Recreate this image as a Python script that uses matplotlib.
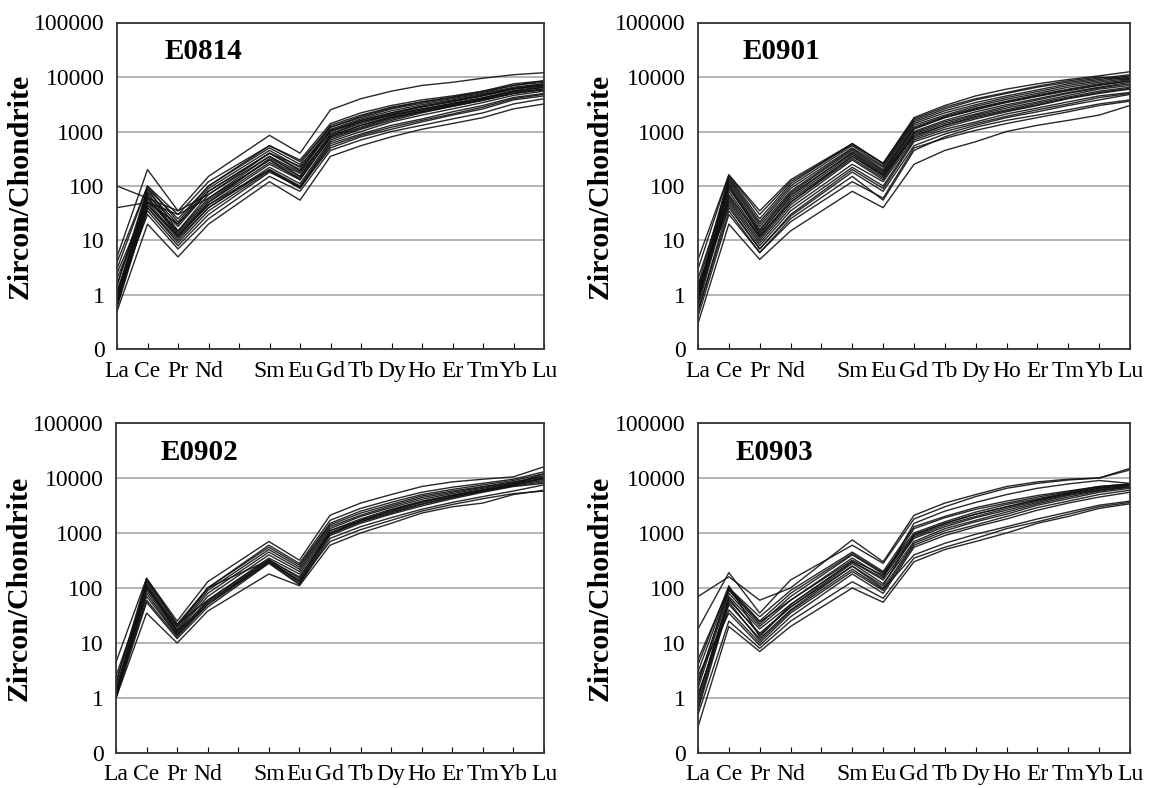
import numpy as np
import matplotlib
matplotlib.use("Agg")
import matplotlib.pyplot as plt

plt.rcParams['font.family'] = ['Liberation Serif', 'DejaVu Serif']

# REE order, Pm (blank) keeps its slot on the axis
ree_labels = ['La', 'Ce', 'Pr', 'Nd', '', 'Sm', 'Eu', 'Gd', 'Tb', 'Dy', 'Ho', 'Er', 'Tm', 'Yb', 'Lu']
ree_pos = [0, 1, 2, 3, 5, 6, 7, 8, 9, 10, 11, 12, 13, 14]   # no Pm data
ytick_vals = [0.1, 1, 10, 100, 1000, 10000, 100000]
ytick_text = ['0', '1', '10', '100', '1000', '10000', '100000']

e0814 = [
    [5, 200, 35, 150, 850, 400, 2500, 4000, 5500, 7000, 8000, 9500, 11000, 12000],
    [100, 60, 35, 70, 350, 150, 900, 1500, 2000, 2600, 3200, 4000, 5500, 6500],
    [40, 50, 30, 60, 300, 130, 800, 1300, 1800, 2300, 3000, 3800, 5000, 6000],
    [0.5, 20, 5, 20, 120, 55, 350, 550, 800, 1100, 1400, 1800, 2600, 3200],
    [3, 100, 30, 120, 550, 300, 1400, 2200, 3000, 3800, 4500, 5500, 7500, 8500],
    [1, 90, 25, 100, 500, 250, 1300, 2000, 2800, 3500, 4300, 5500, 7000, 8000],
    [0.8, 80, 20, 90, 450, 220, 1200, 1800, 2600, 3300, 4000, 5000, 6500, 7500],
    [1.5, 70, 18, 80, 400, 200, 1100, 1700, 2400, 3100, 3800, 4800, 6200, 7000],
    [1, 60, 15, 60, 350, 180, 1000, 1500, 2100, 2800, 3500, 4500, 6000, 6800],
    [0.7, 55, 14, 55, 300, 150, 900, 1400, 2000, 2600, 3300, 4200, 5600, 6500],
    [0.6, 50, 12, 45, 250, 130, 800, 1200, 1800, 2400, 3100, 4000, 5300, 6000],
    [1.2, 45, 11, 40, 220, 110, 700, 1100, 1600, 2200, 2900, 3700, 5000, 5800],
    [0.9, 40, 10, 40, 200, 100, 650, 1000, 1500, 2000, 2600, 3400, 4600, 5500],
    [2, 45, 12, 45, 200, 95, 600, 900, 1300, 1700, 2300, 3000, 4200, 5000],
    [0.6, 40, 9, 35, 190, 90, 550, 850, 1200, 1600, 2100, 2800, 4000, 4800],
    [0.8, 35, 8, 30, 180, 95, 500, 800, 1100, 1500, 2000, 2600, 3800, 4500],
    [1, 30, 7, 25, 150, 80, 450, 700, 1000, 1300, 1700, 2200, 3200, 4000],
    [4, 100, 22, 100, 550, 280, 1200, 1900, 2700, 3500, 4200, 5200, 7000, 8500],
    [1.5, 90, 15, 70, 400, 230, 1000, 1600, 2200, 2900, 3600, 4600, 6200, 7500],
    [0.7, 75, 13, 50, 320, 170, 850, 1300, 1900, 2500, 3200, 4100, 5500, 6500],
    [1, 65, 12, 50, 270, 140, 750, 1150, 1700, 2300, 2900, 3800, 5000, 6000],
    [2.5, 50, 20, 80, 400, 190, 1050, 1600, 2200, 2900, 3600, 4600, 6000, 7200],
]

e0901 = [
    [4.5, 160, 35, 130, 600, 260, 1800, 3000, 4500, 6000, 7500, 9000, 10500, 12500],
    [0.3, 20, 4.5, 15, 80, 40, 250, 450, 650, 1000, 1300, 1600, 2000, 3000],
    [0.5, 35, 6, 25, 150, 55, 450, 800, 1200, 1600, 2000, 2500, 3200, 3800],
    [1, 150, 25, 110, 600, 250, 1600, 2600, 3800, 5000, 6500, 8000, 9500, 11000],
    [1.5, 140, 22, 100, 550, 230, 1500, 2400, 3400, 4500, 5800, 7500, 9000, 10500],
    [0.8, 130, 20, 90, 500, 220, 1400, 2200, 3100, 4200, 5400, 7000, 8500, 10000],
    [1.2, 120, 18, 80, 480, 200, 1300, 2000, 2900, 3900, 5000, 6500, 8000, 9500],
    [0.7, 110, 16, 75, 450, 190, 1200, 1900, 2700, 3600, 4700, 6000, 7500, 9000],
    [2, 100, 15, 70, 400, 170, 1100, 1800, 2500, 3400, 4400, 5600, 7000, 8500],
    [0.9, 90, 14, 60, 380, 160, 1000, 1600, 2300, 3100, 4000, 5200, 6500, 8000],
    [1, 80, 12, 55, 350, 150, 950, 1500, 2100, 2900, 3800, 5000, 6300, 7500],
    [0.6, 70, 11, 50, 320, 140, 900, 1400, 2000, 2700, 3500, 4600, 6000, 7000],
    [1.3, 60, 10, 45, 300, 130, 850, 1300, 1900, 2500, 3300, 4300, 5500, 6500],
    [0.8, 55, 9, 40, 250, 120, 750, 1200, 1700, 2300, 3000, 4000, 5000, 6000],
    [1.1, 50, 8, 35, 220, 100, 700, 1100, 1500, 2100, 2700, 3500, 4500, 5200],
    [0.5, 45, 7, 30, 200, 90, 650, 1000, 1400, 1900, 2500, 3200, 4200, 5000],
    [1.5, 40, 7, 28, 180, 80, 550, 900, 1300, 1800, 2300, 3000, 3800, 4800],
    [3, 160, 30, 120, 580, 260, 1700, 2800, 4000, 5200, 6800, 8500, 10000, 9000],
    [0.9, 100, 13, 65, 420, 180, 1150, 1800, 2600, 3500, 4500, 5800, 7200, 8500],
    [1, 65, 12, 50, 350, 160, 800, 1300, 1800, 2400, 3100, 4100, 5200, 6200],
    [0.4, 30, 6, 22, 120, 60, 500, 750, 1050, 1400, 1800, 2300, 3000, 3600],
]

e0902 = [
    [4.5, 150, 25, 130, 700, 320, 2100, 3500, 5000, 7000, 8500, 9500, 10500, 16000],
    [1, 35, 10, 38, 180, 110, 600, 1000, 1500, 2300, 3000, 3500, 5000, 6000],
    [1, 140, 22, 100, 600, 280, 1700, 2800, 4000, 5500, 6800, 8000, 9500, 13000],
    [1.2, 130, 20, 100, 550, 260, 1500, 2500, 3600, 5000, 6200, 7500, 9000, 12000],
    [1.5, 120, 18, 90, 500, 240, 1400, 2300, 3300, 4700, 5800, 7000, 8500, 11000],
    [2, 110, 17, 80, 450, 220, 1300, 2100, 3100, 4400, 5500, 6800, 8300, 10500],
    [1.3, 100, 16, 70, 400, 200, 1200, 2000, 2900, 4100, 5200, 6500, 8000, 10000],
    [1.1, 90, 15, 60, 350, 180, 1100, 1800, 2700, 3800, 4900, 6200, 7800, 9500],
    [1, 80, 14, 55, 320, 160, 1000, 1700, 2500, 3600, 4700, 6000, 7500, 9000],
    [1.4, 70, 14, 50, 300, 140, 950, 1600, 2300, 3300, 4400, 5700, 7200, 8500],
    [1.2, 60, 13, 50, 290, 120, 900, 1500, 2200, 3100, 4200, 5500, 7000, 8000],
    [1, 55, 12, 45, 280, 115, 800, 1300, 1900, 2700, 3600, 4600, 5800, 7500],
    [2.5, 100, 20, 100, 320, 130, 1000, 1600, 2400, 3400, 4500, 5800, 7400, 10000],
    [1.8, 150, 22, 60, 330, 150, 1100, 1700, 2600, 3700, 4800, 6000, 7600, 12000],
    [1, 110, 16, 55, 300, 130, 700, 1150, 1700, 2500, 3300, 4200, 5200, 5800],
]

e0903 = [
    [70, 160, 60, 100, 750, 300, 2100, 3500, 5000, 7000, 8500, 9500, 10000, 15000],
    [18, 190, 35, 140, 600, 280, 1800, 3000, 4600, 6500, 8000, 9200, 10000, 14000],
    [0.3, 20, 7, 20, 100, 55, 300, 500, 700, 1000, 1500, 2000, 2800, 3400],
    [0.5, 25, 8, 25, 130, 65, 350, 550, 800, 1200, 1600, 2200, 3000, 3600],
    [5, 100, 30, 90, 450, 200, 1300, 2000, 2900, 3800, 4800, 5800, 7000, 7800],
    [3, 100, 25, 80, 420, 190, 1000, 1600, 2400, 3300, 4200, 5400, 6800, 7600],
    [2, 90, 22, 70, 400, 180, 900, 1500, 2200, 3000, 4000, 5200, 6500, 7500],
    [1.5, 80, 20, 60, 350, 160, 850, 1400, 2000, 2800, 3800, 5000, 6200, 7200],
    [1, 70, 18, 50, 300, 140, 800, 1300, 1900, 2600, 3600, 4800, 6000, 7000],
    [0.8, 60, 15, 45, 280, 120, 700, 1200, 1700, 2400, 3400, 4500, 5800, 6800],
    [0.6, 50, 12, 40, 250, 100, 650, 1100, 1600, 2200, 3200, 4200, 5500, 6500],
    [1.2, 40, 10, 35, 200, 90, 600, 1000, 1400, 2000, 2900, 3800, 5000, 6000],
    [2.5, 35, 9, 30, 180, 80, 550, 900, 1300, 1800, 2600, 3500, 4500, 5500],
    [4, 110, 13, 50, 300, 150, 1500, 2500, 3600, 5000, 6500, 7800, 9000, 8000],
    [1, 65, 14, 45, 250, 110, 950, 1500, 2200, 3000, 4000, 5200, 6500, 7500],
    [0.7, 55, 11, 38, 220, 95, 400, 650, 950, 1300, 1800, 2400, 3200, 3800],
    [1.8, 95, 24, 60, 320, 170, 1200, 1900, 2700, 3500, 4500, 5600, 7000, 7800],
]

samples = ['E0814', 'E0901', 'E0902', 'E0903']
panels = [e0814, e0901, e0902, e0903]

W, H = 1151, 788
fig = plt.figure(figsize=(W / 100, H / 100), dpi=100)

# axes boxes in pixels: left, right, top, bottom
boxes = [(117, 544, 22.5, 349.5), (698, 1130, 22.5, 349.5),
         (116, 544, 423, 753), (698, 1130, 423, 753)]
title_x = [0.112, 0.104, 0.103, 0.088]

for k in range(4):
    l, r, t, b = boxes[k]
    ax = fig.add_axes([l / W, 1 - b / H, (r - l) / W, (b - t) / H])
    for row in panels[k]:
        ax.plot(ree_pos, row, color='#111111', lw=1.0, alpha=0.9)
    ax.set_yscale('log')
    ax.set_ylim(0.1, 100000)
    ax.set_xlim(0, 14)
    ax.set_yticks(ytick_vals)
    ax.set_yticklabels(ytick_text)
    ax.yaxis.set_minor_locator(matplotlib.ticker.NullLocator())
    ax.set_xticks(range(15))
    ax.set_xticklabels(ree_labels)
    ax.tick_params(axis='y', length=0, pad=9, labelsize=17)
    ax.tick_params(axis='x', direction='in', length=4, width=0.8, pad=8, labelsize=17)
    ax.grid(axis='y', color='#a8a8a8', lw=1.2)
    ax.set_axisbelow(True)
    for s in ax.spines.values():
        s.set_color('#333333')
        s.set_linewidth(1.3)
    ax.text(title_x[k], 0.91, samples[k], transform=ax.transAxes, ha='left', va='center',
            fontsize=21, fontweight='bold')
    ax.set_ylabel('Zircon/Chondrite', fontsize=21.5, fontweight='bold')
    ax.yaxis.set_label_coords(-0.195, 0.5)

fig.savefig('out.png', dpi=100)
